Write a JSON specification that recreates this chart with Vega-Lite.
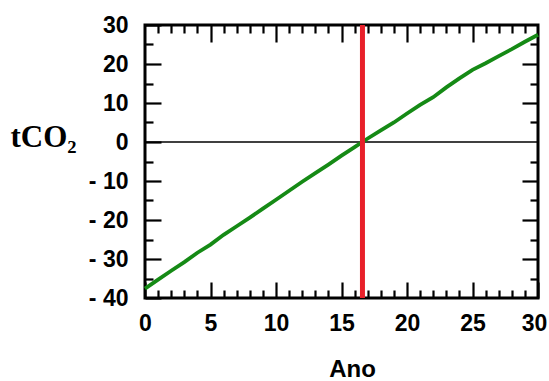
{
  "$schema": "https://vega.github.io/schema/vega-lite/v6.json",
  "width": 393,
  "height": 273,
  "autosize": {"type": "none"},
  "padding": {"left": 145, "top": 25, "right": 11, "bottom": 83},
  "background": "white",
  "config": {
    "view": {"stroke": "black", "strokeWidth": 3},
    "axis": {
      "grid": false,
      "domain": false,
      "tickColor": "black",
      "tickWidth": 2.2,
      "labelFont": "Liberation Sans",
      "labelFontWeight": "bold",
      "labelFontSize": 23,
      "labelColor": "black",
      "titleColor": "black"
    }
  },
  "datasets": {
    "series": [
      {"ano": 0, "tco2": -37.6},
      {"ano": 1, "tco2": -35.3},
      {"ano": 2, "tco2": -33.0},
      {"ano": 3, "tco2": -30.8},
      {"ano": 4, "tco2": -28.4},
      {"ano": 5, "tco2": -26.3},
      {"ano": 6, "tco2": -23.8},
      {"ano": 7, "tco2": -21.6},
      {"ano": 8, "tco2": -19.4},
      {"ano": 9, "tco2": -17.1},
      {"ano": 10, "tco2": -14.8},
      {"ano": 11, "tco2": -12.5},
      {"ano": 12, "tco2": -10.2},
      {"ano": 13, "tco2": -8.0},
      {"ano": 14, "tco2": -5.8},
      {"ano": 15, "tco2": -3.5},
      {"ano": 16, "tco2": -1.3},
      {"ano": 17, "tco2": 0.9},
      {"ano": 18, "tco2": 3.0},
      {"ano": 19, "tco2": 5.0},
      {"ano": 20, "tco2": 7.3},
      {"ano": 21, "tco2": 9.5},
      {"ano": 22, "tco2": 11.5},
      {"ano": 23, "tco2": 14.0},
      {"ano": 24, "tco2": 16.3},
      {"ano": 25, "tco2": 18.5},
      {"ano": 26, "tco2": 20.2},
      {"ano": 27, "tco2": 22.0},
      {"ano": 28, "tco2": 23.8},
      {"ano": 29, "tco2": 25.7},
      {"ano": 30, "tco2": 27.5}
    ],
    "payback": [{"ano": 16.6}],
    "zero": [{"tco2": 0}]
  },
  "resolve": {"axis": {"x": "independent", "y": "independent"}},
  "layer": [
    {
      "data": {"name": "zero"},
      "mark": {"type": "rule", "color": "black", "strokeWidth": 1.6},
      "encoding": {
        "y": {
          "field": "tco2", "type": "quantitative",
          "scale": {"domain": [-40, 30], "nice": false, "zero": false},
          "axis": {"orient": "left", "values": [-35, -25, -15, -5, 5, 15, 25], "labels": false, "tickSize": -8, "title": null}
        }
      }
    },
    {
      "data": {"name": "series"},
      "mark": {"type": "line", "color": "#158a15", "strokeWidth": 3.8},
      "encoding": {
        "x": {
          "field": "ano", "type": "quantitative",
          "scale": {"domain": [0, 30], "nice": false, "zero": false},
          "axis": {
            "orient": "bottom", "values": [0, 5, 10, 15, 20, 25, 30], "tickSize": -16,
            "labelPadding": 30, "labelFlush": false,
            "labelOffset": {"expr": "datum.value == 30 ? -4 : 0"},
            "title": "Ano", "titleFont": "Liberation Sans", "titleFontWeight": "bold", "titleFontSize": 24,
            "titleX": 207, "titleY": 78, "titleBaseline": "alphabetic", "titleAlign": "center"
          }
        },
        "y": {
          "field": "tco2", "type": "quantitative",
          "scale": {"domain": [-40, 30], "nice": false, "zero": false},
          "axis": {
            "orient": "left", "values": [-40, -30, -20, -10, 0, 10, 20, 30], "tickSize": -16,
            "labelPadding": 33, "labelFlush": false,
            "labelExpr": "datum.value < 0 ? '- ' + abs(datum.value) : '' + datum.value",
            "title": "tCO₂", "titleFont": "Liberation Serif", "titleFontWeight": "bold", "titleFontSize": 31,
            "titleAngle": 0, "titleX": -102, "titleY": 112, "titleAlign": "center", "titleBaseline": "middle"
          }
        }
      }
    },
    {
      "data": {"name": "payback"},
      "mark": {"type": "rule", "color": "#e8202a", "strokeWidth": 5},
      "encoding": {
        "x": {
          "field": "ano", "type": "quantitative",
          "scale": {"domain": [0, 30], "nice": false, "zero": false},
          "axis": {"orient": "bottom", "values": [1, 2, 3, 4, 6, 7, 8, 9, 11, 12, 13, 14, 16, 17, 18, 19, 21, 22, 23, 24, 26, 27, 28, 29], "labels": false, "tickSize": -8, "title": null}
        }
      }
    },
    {
      "data": {"name": "series"},
      "mark": {"type": "point", "opacity": 0},
      "encoding": {
        "x": {
          "field": "ano", "type": "quantitative",
          "scale": {"domain": [0, 30], "nice": false, "zero": false},
          "axis": {"orient": "top", "values": [5, 10, 15, 20, 25], "labels": false, "tickSize": -17, "title": null}
        },
        "y": {
          "field": "tco2", "type": "quantitative",
          "scale": {"domain": [-40, 30], "nice": false, "zero": false},
          "axis": {"orient": "right", "values": [-30, -20, -10, 10, 20], "labels": false, "tickSize": -16, "title": null}
        }
      }
    },
    {
      "data": {"name": "series"},
      "mark": {"type": "point", "opacity": 0},
      "encoding": {
        "x": {
          "field": "ano", "type": "quantitative",
          "scale": {"domain": [0, 30], "nice": false, "zero": false},
          "axis": {"orient": "top", "values": [1, 2, 3, 4, 6, 7, 8, 9, 11, 12, 13, 14, 16, 17, 18, 19, 21, 22, 23, 24, 26, 27, 28, 29], "labels": false, "tickSize": -8, "title": null}
        },
        "y": {
          "field": "tco2", "type": "quantitative",
          "scale": {"domain": [-40, 30], "nice": false, "zero": false},
          "axis": {"orient": "right", "values": [-35, -25, -15, -5, 5, 15, 25], "labels": false, "tickSize": -8, "title": null}
        }
      }
    }
  ]
}
